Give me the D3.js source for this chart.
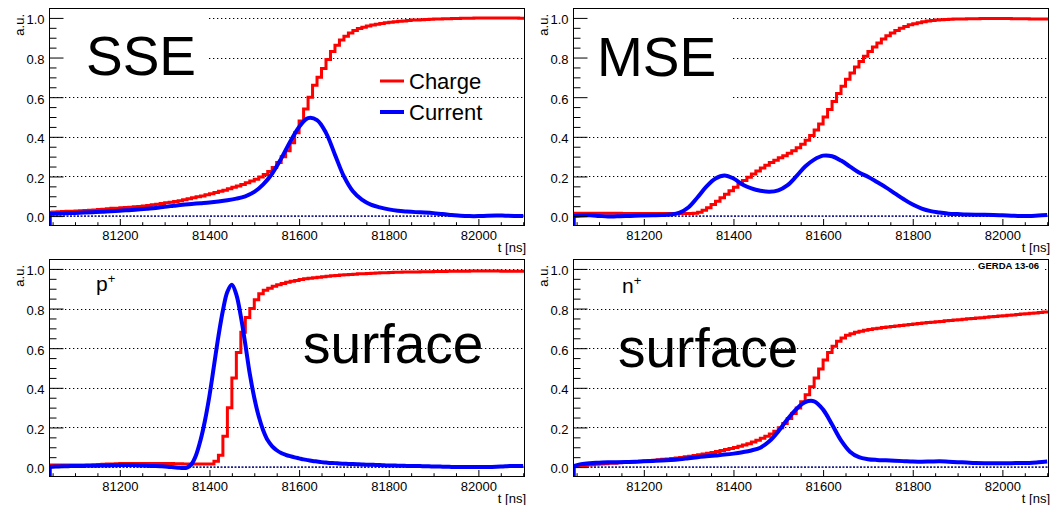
<!DOCTYPE html>
<html><head><meta charset="utf-8">
<script src="https://cdn.jsdelivr.net/npm/d3@7"></script>
<style>
body{margin:0;background:#fff}
svg{display:block}
text{font-family:"Liberation Sans",Arial,Helvetica,sans-serif;fill:#000}
</style>
</head><body>
<svg id="chart" width="1052" height="505"></svg>
<script>
// ---------- data ----------
const timeDomain = [81042, 82104];
const valueDomain = [-0.05, 1.05];
const xTickValues = [81200, 81400, 81600, 81800, 82000];
const xMinorTickValues = [81050,81100,81150,81250,81300,81350,81450,81500,81550,81650,81700,81750,81850,81900,81950,82050,82100];
const yTickValues = [0, 0.2, 0.4, 0.6, 0.8, 1.0];
const yMinorTickValues = [0.05,0.1,0.15,0.25,0.3,0.35,0.45,0.5,0.55,0.65,0.7,0.75,0.85,0.9,0.95];
const gridValues = [0.2, 0.4, 0.6, 0.8, 1.0];
const seriesNames = ["Charge", "Current"];
const panelLabels = ["SSE", "MSE", "surface", "surface"];
const electrodeLabels = ["", "", "p", "n"];
const stampText = "GERDA 13-06";
const xTitle = "t [ns]";
const yTitle = "a.u.";

// charge histograms: 10 ns bins starting at 81040
const chargeBinStarts = d3.range(81040, 82100, 10);
const chargeSSE = [
0.020,0.021,0.022,0.023,0.024,0.025,0.026,0.027,0.028,0.030,
0.031,0.033,0.035,0.037,0.039,0.040,0.042,0.043,0.045,0.047,
0.049,0.051,0.054,0.057,0.060,0.063,0.067,0.070,0.074,0.078,
0.082,0.087,0.092,0.097,0.102,0.108,0.113,0.119,0.125,0.131,
0.138,0.145,0.152,0.160,0.168,0.177,0.186,0.197,0.210,0.225,
0.245,0.270,0.300,0.330,0.370,0.420,0.480,0.540,0.600,0.660,
0.700,0.745,0.790,0.830,0.862,0.888,0.908,0.924,0.936,0.946,
0.953,0.959,0.964,0.968,0.972,0.975,0.978,0.981,0.983,0.985,
0.987,0.989,0.990,0.991,0.992,0.993,0.994,0.995,0.996,0.996,
0.997,0.997,0.998,0.998,0.998,0.999,0.999,0.999,1.000,1.000,
1.000,1.000,1.000,1.000,0.999,0.998];
const chargeMSE = [
0.014,0.014,0.014,0.014,0.014,0.014,0.014,0.014,0.014,0.014,
0.014,0.013,0.013,0.013,0.013,0.013,0.013,0.013,0.013,0.013,
0.013,0.013,0.013,0.013,0.013,0.013,0.013,0.014,0.020,0.030,
0.042,0.058,0.075,0.093,0.110,0.128,0.145,0.162,0.180,0.196,
0.212,0.228,0.243,0.257,0.270,0.282,0.294,0.305,0.317,0.330,
0.345,0.362,0.383,0.407,0.435,0.465,0.500,0.538,0.578,0.618,
0.655,0.690,0.722,0.752,0.780,0.806,0.830,0.853,0.874,0.893,
0.910,0.924,0.937,0.948,0.957,0.965,0.971,0.976,0.980,0.984,
0.987,0.989,0.991,0.992,0.993,0.994,0.995,0.995,0.996,0.996,
0.996,0.997,0.997,0.997,0.997,0.997,0.997,0.997,0.996,0.996,
0.996,0.996,0.995,0.995,0.995,0.995];
const chargePplus = [
0.010,0.010,0.010,0.010,0.010,0.010,0.010,0.010,0.010,0.010,
0.012,0.013,0.014,0.015,0.016,0.017,0.018,0.018,0.018,0.018,
0.018,0.018,0.018,0.018,0.018,0.018,0.018,0.018,0.017,0.017,
0.016,0.016,0.016,0.016,0.015,0.015,0.015,0.030,0.060,0.155,
0.300,0.450,0.578,0.680,0.755,0.800,0.845,0.875,0.892,0.903,
0.912,0.920,0.927,0.933,0.938,0.942,0.946,0.950,0.953,0.956,
0.958,0.961,0.963,0.965,0.967,0.969,0.970,0.972,0.973,0.975,
0.976,0.977,0.978,0.979,0.980,0.981,0.982,0.983,0.983,0.984,
0.984,0.985,0.985,0.986,0.986,0.986,0.987,0.987,0.987,0.988,
0.988,0.988,0.988,0.988,0.989,0.989,0.989,0.989,0.989,0.989,
0.989,0.988,0.988,0.988,0.988,0.988];
const chargeNplus = [
0.004,0.006,0.008,0.010,0.012,0.014,0.016,0.017,0.019,0.020,
0.022,0.023,0.025,0.026,0.028,0.029,0.031,0.033,0.035,0.037,
0.039,0.041,0.043,0.046,0.049,0.052,0.055,0.058,0.062,0.066,
0.070,0.074,0.079,0.084,0.089,0.094,0.099,0.105,0.111,0.118,
0.126,0.135,0.145,0.155,0.167,0.181,0.198,0.220,0.245,0.270,
0.298,0.330,0.365,0.405,0.450,0.495,0.540,0.578,0.610,0.635,
0.652,0.665,0.673,0.680,0.686,0.690,0.694,0.698,0.701,0.704,
0.707,0.710,0.712,0.715,0.717,0.720,0.722,0.724,0.727,0.729,
0.731,0.733,0.735,0.738,0.740,0.742,0.744,0.746,0.748,0.750,
0.752,0.754,0.756,0.758,0.760,0.762,0.764,0.766,0.768,0.770,
0.772,0.774,0.776,0.778,0.780,0.782];

// current pulses
const currentTimes20 = d3.range(81040, 82101, 20);
const currentTimes10 = d3.range(81040, 82101, 10);
const currentSSE = [
0.010,0.012,0.014,0.016,0.018,0.020,0.022,0.025,0.027,0.030,
0.033,0.037,0.041,0.047,0.052,0.057,0.061,0.065,0.069,0.074,
0.080,0.088,0.100,0.122,0.160,0.215,0.290,0.375,0.450,0.494,
0.484,0.420,0.310,0.200,0.125,0.083,0.058,0.044,0.034,0.027,
0.023,0.020,0.018,0.015,0.010,0.006,0.002,0.000,0.000,0.002,
0.003,0.002,0.001,0.000];
const currentMSE = [
0.000,0.003,0.004,0.001,-0.002,-0.001,0.000,0.002,0.003,0.004,
0.005,0.008,0.018,0.045,0.095,0.150,0.190,0.205,0.190,0.160,
0.140,0.128,0.123,0.130,0.155,0.200,0.250,0.285,0.305,0.302,
0.280,0.250,0.220,0.198,0.172,0.145,0.115,0.085,0.058,0.038,
0.025,0.018,0.012,0.010,0.008,0.007,0.007,0.006,0.004,0.002,
0.000,0.001,0.003,0.005];
const currentPplus = [
0.000,0.002,0.003,0.004,0.004,0.005,0.005,0.006,0.006,0.007,
0.007,0.007,0.008,0.008,0.009,0.009,0.010,0.010,0.010,0.010,
0.009,0.008,0.007,0.006,0.005,0.004,0.003,0.001,-0.001,-0.003,
-0.005,-0.003,0.015,0.060,0.135,0.235,0.360,0.510,0.660,0.790,
0.885,0.920,0.870,0.760,0.620,0.470,0.350,0.255,0.185,0.135,
0.105,0.085,0.071,0.062,0.055,0.049,0.044,0.039,0.035,0.031,
0.028,0.025,0.023,0.021,0.020,0.018,0.017,0.016,0.015,0.014,
0.013,0.012,0.012,0.011,0.010,0.009,0.008,0.008,0.007,0.007,
0.006,0.006,0.005,0.005,0.004,0.004,0.003,0.003,0.002,0.002,
0.001,0.001,0.001,0.000,0.000,0.000,0.000,0.000,0.000,0.001,
0.002,0.003,0.004,0.005,0.005,0.005,0.006];
const currentNplus = [
0.003,0.015,0.020,0.022,0.024,0.025,0.026,0.027,0.029,0.031,
0.033,0.036,0.040,0.045,0.050,0.055,0.059,0.063,0.068,0.075,
0.084,0.098,0.130,0.180,0.240,0.292,0.328,0.332,0.290,0.215,
0.135,0.078,0.050,0.040,0.036,0.034,0.032,0.030,0.028,0.027,
0.028,0.029,0.027,0.025,0.023,0.021,0.020,0.020,0.020,0.020,
0.021,0.021,0.024,0.028];

// ---------- layout ----------
const svg = d3.select("#chart");
svg.append("rect").attr("width",1052).attr("height",505).attr("fill","#fff");

const panels = [
  {box:[49,525,8,226], charge:chargeSSE, curT:currentTimes20, cur:currentSSE, label:0,
   cover:[49,207,8,78]},
  {box:[573,1049,8,226], charge:chargeMSE, curT:currentTimes20, cur:currentMSE, label:1,
   cover:[573,731,8,118]},
  {box:[49,525,259,477], charge:chargePplus, curT:currentTimes10, cur:currentPplus, label:2},
  {box:[573,1049,259,477], charge:chargeNplus, curT:currentTimes20, cur:currentNplus, label:3, stamp:true}
];

const RED = "#ff0000", BLUE = "#0000ff";

panels.forEach((p, idx) => {
  const [x0,x1,y0,y1] = p.box;
  const x = d3.scaleLinear().domain(timeDomain).range([x0,x1]);
  const y = d3.scaleLinear().domain(valueDomain).range([y1,y0]);
  const g = svg.append("g");
  const clipId = "clip"+idx;
  g.append("clipPath").attr("id",clipId).append("rect")
    .attr("x",x0).attr("y",y0).attr("width",x1-x0).attr("height",y1-y0);

  // grid
  g.append("g").selectAll("line").data(gridValues).join("line")
    .attr("x1",x0).attr("x2",x1)
    .attr("y1",d=>Math.round(y(d))+0.5).attr("y2",d=>Math.round(y(d))+0.5)
    .attr("stroke","#000").attr("stroke-width",1).attr("stroke-dasharray","1.3,2.7");

  if (p.cover) {
    g.append("rect").attr("x",p.cover[0]+1).attr("y",p.cover[2]+1)
      .attr("width",p.cover[1]-p.cover[0]).attr("height",p.cover[3]-p.cover[2])
      .attr("fill","#fff");
  }
  if (p.stamp) {
    g.append("rect").attr("x",974).attr("y",y0+2).attr("width",69).attr("height",10).attr("fill","#fff");
  }

  const plot = g.append("g").attr("clip-path",`url(#${clipId})`);
  // zero line
  plot.append("line").attr("x1",x0).attr("x2",x1).attr("y1",y(0)).attr("y2",y(0))
    .attr("stroke","#1c1c8c").attr("stroke-width",1.6).attr("stroke-dasharray","2,1.5");

  // charge histogram
  const chargePts = p.charge.map((v,i)=>[chargeBinStarts[i], v]);
  chargePts.push([timeDomain[1]+10, p.charge[p.charge.length-1]]);
  plot.append("path").datum(chargePts)
    .attr("d", d3.line().x(d=>x(d[0])).y(d=>y(d[1])).curve(d3.curveStepAfter))
    .attr("fill","none").attr("stroke",RED).attr("stroke-width",3);

  // current
  const curPts = p.cur.map((v,i)=>[p.curT[i], v]);
  plot.append("path").datum([[timeDomain[0], valueDomain[0]],[timeDomain[0], p.cur[0]]])
    .attr("d", d3.line().x(d=>x(d[0])+1).y(d=>y(d[1])))
    .attr("stroke",BLUE).attr("stroke-width",3.5).attr("fill","none");
  plot.append("path").datum(curPts)
    .attr("d", d3.line().x(d=>x(d[0])).y(d=>y(d[1])).curve(d3.curveCatmullRom.alpha(0.5)))
    .attr("fill","none").attr("stroke",BLUE).attr("stroke-width",4)
    .attr("stroke-linejoin","round");

  // frame
  g.append("rect").attr("x",x0+0.5).attr("y",y0+0.5).attr("width",x1-x0-1).attr("height",y1-y0-1)
    .attr("fill","none").attr("stroke","#000").attr("stroke-width",1);

  // axes
  const yAxis = d3.axisLeft(y).tickValues(yTickValues).tickSize(-14).tickPadding(5)
    .tickSizeOuter(0).tickFormat(d3.format(".1f"));
  const ya = g.append("g").attr("transform",`translate(${x0+0.5},0)`).call(yAxis);
  const yMinor = d3.axisLeft(y).tickValues(yMinorTickValues).tickSize(-7).tickFormat("").tickSizeOuter(0);
  const ym = g.append("g").attr("transform",`translate(${x0+0.5},0)`).call(yMinor);
  const xAxis = d3.axisBottom(x).tickValues(xTickValues).tickSize(-6.5).tickPadding(5)
    .tickSizeOuter(0).tickFormat(d3.format("d"));
  const xa = g.append("g").attr("transform",`translate(0,${y1-0.5})`).call(xAxis);
  const xMinor = d3.axisBottom(x).tickValues(xMinorTickValues).tickSize(-3.3).tickFormat("").tickSizeOuter(0);
  const xm = g.append("g").attr("transform",`translate(0,${y1-0.5})`).call(xMinor);
  [ya,ym,xa,xm].forEach(a=>{
    a.select(".domain").remove();
    a.selectAll("line").attr("stroke","#000").attr("stroke-width",1);
    a.selectAll("text").attr("font-size",13).attr("font-family",null).attr("fill","#000");
  });
  ya.selectAll("text").attr("dy","0.45em");

  // titles
  g.append("text").attr("transform",`translate(${x0-25},${y0+6}) rotate(-90)`)
    .attr("text-anchor","end").attr("font-size",13).text(yTitle);
  g.append("text").attr("x",x1+1).attr("y",y1+26).attr("text-anchor","end")
    .attr("font-size",13).text(xTitle);
});

// panel labels
const big = [
  {i:0, x:86, y:75},
  {i:1, x:597, y:76},
  {i:2, x:303, y:363},
  {i:3, x:618, y:367}
];
big.forEach(b=>{
  svg.append("text").attr("x",b.x).attr("y",b.y).attr("font-size",55).text(panelLabels[b.i]);
});

// electrode labels p+ / n+
[{i:2,x:96,y:291},{i:3,x:622,y:293}].forEach(e=>{
  const t = svg.append("text").attr("x",e.x).attr("y",e.y).attr("font-size",21);
  t.append("tspan").text(electrodeLabels[e.i]);
  t.append("tspan").attr("dy",-8).attr("font-size",13).text("+");
});

// stamp
svg.append("text").attr("x",1039).attr("y",268.5).attr("text-anchor","end")
  .attr("font-size",9.5).attr("font-weight","bold").text(stampText);

// legend
const legend = svg.append("g");
const legendRows = [{name:seriesNames[0], color:RED, w:3, y:81},{name:seriesNames[1], color:BLUE, w:4, y:112}];
legendRows.forEach(r=>{
  legend.append("line").attr("x1",380).attr("x2",404).attr("y1",r.y).attr("y2",r.y)
    .attr("stroke",r.color).attr("stroke-width",r.w);
  legend.append("text").attr("x",409).attr("y",r.y+7.5).attr("font-size",22).text(r.name);
});
</script>
</body></html>
